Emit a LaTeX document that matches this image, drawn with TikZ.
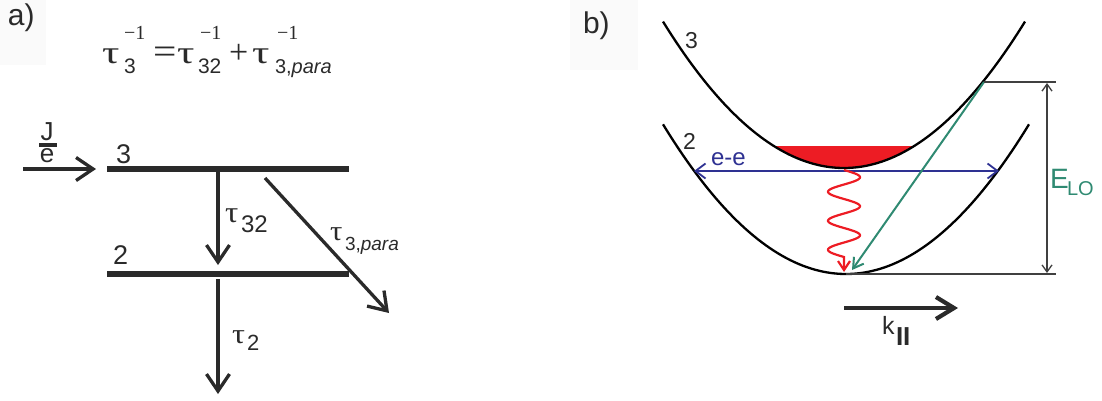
\documentclass[tikz,border=0pt]{standalone}
\usepackage{fontspec}
\setmainfont{Liberation Sans}
\newfontfamily\serf{Liberation Serif}
\usetikzlibrary{arrows.meta}
\definecolor{myred}{HTML}{ED1C24}
\definecolor{myblue}{HTML}{2E3192}
\definecolor{mygreen}{HTML}{2F8A72}
\definecolor{txt}{HTML}{2A2A2A}
\definecolor{dimc}{HTML}{404040}
\newcommand{\fs}[1]{\fontsize{#1}{#1}\selectfont}
\newcommand{\tauw}[2]{{\serf\fs{#1}\scalebox{#2}[1]{τ}}}
\begin{document}
\begin{tikzpicture}[x=1pt,y=-1pt,inner sep=0pt,outer sep=0pt,
  every node/.style={anchor=base west,text=txt},
  lvl/.style={line width=5.5pt,txt},
  barrow/.style={line width=3.3pt,txt,-{Straight Barb[length=17pt,width=23pt]}},
  curve/.style={line width=2.3pt,black},
  thinarrow/.style={line width=1.3pt,dimc,{Straight Barb[length=7pt,width=10pt]}-{Straight Barb[length=7pt,width=10pt]}}]
\useasboundingbox (0,0) rectangle (1102,400);
% faint label backgrounds
\fill[black!2] (0,0) rectangle (46,65);
\fill[black!2] (570,0) rectangle (638,70);
% ---------- panel a ----------
\node (la) at (8,25) {\fs{30}a)};
% equation
\node (t1) at (102,63) {\tauw{32}{1.35}};
\node (s1) at (124,73) {\fs{21}3};
\node (p1) at (124,39) {\serf\fs{20}−1};
\node (eqs) at (153,63) {\serf\fs{36}\scalebox{1.15}[1]{=}};
\node (t2) at (177,63) {\tauw{32}{1.35}};
\node (s2) at (198,73) {\fs{21}32};
\node (p2) at (200,39) {\serf\fs{20}−1};
\node (pls) at (229,63) {\serf\fs{34}+};
\node (t3) at (252,63) {\tauw{32}{1.35}};
\node (s3) at (275,73) {\fs{20}3,\textit{para}};
\node (p3) at (277,39) {\serf\fs{20}−1};
% J/e
\node[anchor=north,align=center,font=\fontsize{26}{22}\selectfont] (je_lbl) at (47,123) {J\\e};
\draw[line width=4pt,txt] (39,145) -- (57,145);
\coordinate (js) at (23,169);
\coordinate (je) at (96,169);
\draw[barrow] (js) -- (je);
% levels
\coordinate (l3a) at (107,169); \coordinate (l3b) at (349,169);
\coordinate (l2a) at (107,274); \coordinate (l2b) at (349,274);
\draw[lvl] (l3a) -- (l3b);
\draw[lvl] (l2a) -- (l2b);
\node (n3) at (116,163) {\fs{27}3};
\node (n2) at (113,264) {\fs{27}2};
% transitions
\coordinate (a1s) at (218,172); \coordinate (a1e) at (218,265);
\draw[barrow] (a1s) -- (a1e);
\node (tl32) at (225,222) {\tauw{30}{1.1}};
\node (sl32) at (241,232) {\fs{24}32};
\coordinate (a2s) at (218,279); \coordinate (a2e) at (218,394);
\draw[barrow] (a2s) -- (a2e);
\node (tl2) at (232,343) {\tauw{28}{1.15}};
\node (sl2) at (247,350) {\fs{22}2};
\coordinate (a3s) at (265,178); \coordinate (a3e) at (389,313);
\draw[barrow] (a3s) -- (a3e);
\node (tlp) at (330,240) {\tauw{28}{1.1}};
\node (slp) at (345,250) {\fs{19}3,\textit{para}};
% ---------- panel b ----------
\node (lb) at (583,33) {\fs{30}b)};
% red population
\fill[myred] plot[domain=-70:70,samples=40] ({844+\x},{168-44.7*(\x/100)^2}) -- cycle;
% subbands
\draw[curve] plot[domain=-181:181,samples=90] ({844+\x},{168-44.7*(\x/100)^2});
\draw[curve] plot[domain=-183:183,samples=90] ({846+\x},{274-44.7*(\x/100)^2});
\node (b3) at (685,48) {\fs{23}3};
\node (b2) at (683,149) {\fs{23}2};
% e-e
\coordinate (eel) at (694,171); \coordinate (eer) at (999,171);
\draw[myblue,line width=1.8pt,{Straight Barb[length=10pt,width=15pt]}-{Straight Barb[length=10pt,width=15pt]}] (eel) -- (eer);
\node[text=myblue] (eet) at (711,165) {\fs{24}e-e};
% wavy relaxation
\coordinate (wv) at (844,272);
\draw[myred,line width=2.2pt,-{Straight Barb[length=9pt,width=12pt]}]
  plot[domain=0:87,samples=120] ({844+16*sin(\x*12.4138)},{170+\x}) -- (wv);
% LO phonon emission
\coordinate (gs) at (984,82); \coordinate (ge) at (852,270);
\draw[mygreen,line width=2pt,-{Straight Barb[length=10pt,width=12pt]}] (gs) -- (ge);
% E_LO dimension
\coordinate (dt) at (1056,82); \coordinate (db) at (1056,274);
\draw[dimc,line width=1.3pt] (gs) -- (dt);
\draw[dimc,line width=1.3pt] (846,274) -- (db);
\coordinate (vt) at (1047,83); \coordinate (vb) at (1047,273);
\draw[thinarrow] (vt) -- (vb);
\node[text=mygreen] (elo) at (1050,188) {\fs{28}E};
\node[text=mygreen] (elos) at (1067,195) {\fs{20}LO};
% k arrow
\coordinate (ks) at (844,308); \coordinate (ke) at (958,308);
\draw[line width=4.2pt,txt,-{Straight Barb[length=18pt,width=22pt]}] (ks) -- (ke);
\node (kl) at (882,334) {\fs{25}k};
\node (kp) at (896,345) {\fs{26}\bfseries II};
\end{tikzpicture}
\end{document}
